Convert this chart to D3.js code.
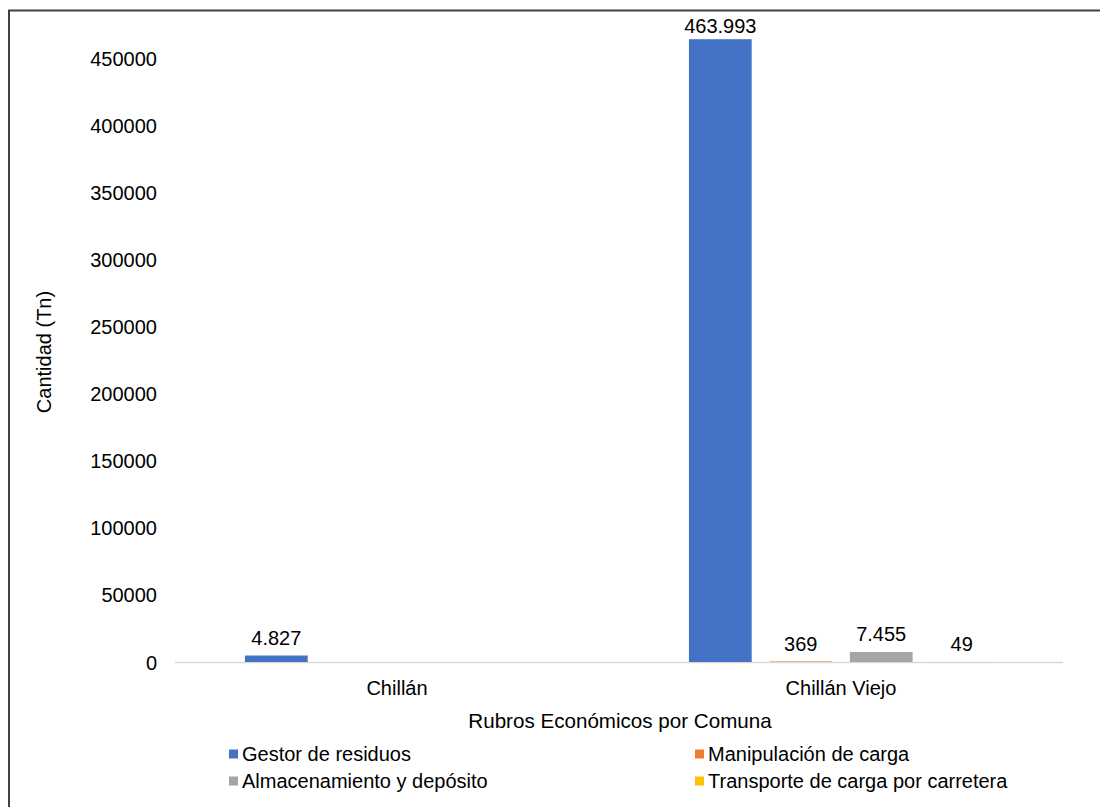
<!DOCTYPE html>
<html><head><meta charset="utf-8">
<script src="https://cdn.jsdelivr.net/npm/d3@7"></script>
<style>
body{margin:0;background:#fff;}
text{font-family:"Liberation Sans",Arial,sans-serif;fill:#000;}
</style></head>
<body><svg id="c" width="1100" height="807"></svg>
<script>
const categories = ["Chillán", "Chillán Viejo"];
const seriesNames = ["Gestor de residuos", "Manipulación de carga", "Almacenamiento y depósito", "Transporte de carga por carretera"];
const seriesColors = ["#4472C4", "#ED7D31", "#A5A5A5", "#FFC000"];
const gestorValues = [4827, 463993];
const manipulacionValues = [null, 369];
const almacenamientoValues = [null, 7455];
const transporteValues = [null, 49];
const yTicks = [0, 50000, 100000, 150000, 200000, 250000, 300000, 350000, 400000, 450000];

const allValues = [gestorValues, manipulacionValues, almacenamientoValues, transporteValues];
const svg = d3.select("#c");
const W = 1100, H = 807;
const FS = 20;
const FF = '"Liberation Sans",Arial,sans-serif';

// frame
svg.append("path").attr("d", `M9,${H} L9,10.5 L${W},10.5`).attr("fill","none").attr("stroke","#404040").attr("stroke-width",2);

const x0 = 175, x1 = 1063, yBase = 662, yTop = 58;
const y = d3.scaleLinear().domain([0, 450000]).range([yBase, yTop]);
const xBand = d3.scaleBand().domain(categories).range([x0, x1]).paddingInner(0.315).paddingOuter(0.1575);
const xSub = d3.scaleBand().domain(d3.range(4)).range([0, xBand.bandwidth()]).paddingInner(0.22).paddingOuter(0);

// y axis labels
const yAxis = d3.axisLeft(y).tickValues(yTicks).tickSize(0).tickPadding(0).tickFormat(d => String(d));
const ya = svg.append("g").attr("transform", `translate(157,0)`).call(yAxis);
ya.select(".domain").remove();
ya.selectAll("text").attr("font-size", FS).attr("font-family", FF).attr("fill","#000").attr("dy","0.35em");

// baseline
svg.append("line").attr("x1", x0).attr("x2", x1).attr("y1", yBase + 0.5).attr("y2", yBase + 0.5).attr("stroke", "#D9D9D9").attr("stroke-width", 1.5);

// bars
const fmt = v => d3.format(",")(v).replace(/,/g, ".");
categories.forEach((cat, ci) => {
  allValues.forEach((vals, si) => {
    const v = vals[ci];
    if (v === null) return;
    const bx = xBand(cat) + xSub(si);
    const bw = xSub.bandwidth();
    svg.append("rect").attr("x", bx).attr("y", y(v)).attr("width", bw).attr("height", yBase - y(v)).attr("fill", seriesColors[si]);
    const ly = Math.max(33, y(v) - 11);
    svg.append("text").attr("x", bx + bw / 2).attr("y", ly).attr("text-anchor", "middle").attr("font-size", FS).text(fmt(v));
  });
});

// x labels
const xAxis = d3.axisBottom(xBand).tickSize(0).tickPadding(0);
const xa = svg.append("g").attr("transform", `translate(0,695)`).call(xAxis);
xa.select(".domain").remove();
xa.selectAll("text").attr("font-size", FS).attr("font-family", FF).attr("fill","#000").attr("y", 0).attr("dy","0");

// axis titles
svg.append("text").attr("x", 620).attr("y", 728).attr("text-anchor", "middle").attr("font-size", 20.6).text("Rubros Económicos por Comuna");
svg.append("text").attr("transform", "translate(51,352) rotate(-90)").attr("text-anchor", "middle").attr("font-size", FS).text("Cantidad (Tn)");

// legend
const legPos = [[229, 754], [695, 754], [229, 781], [695, 781]];
seriesNames.forEach((n, i) => {
  const [lx, ly] = legPos[i];
  svg.append("rect").attr("x", lx).attr("y", ly - 4.5).attr("width", 9).attr("height", 9).attr("fill", seriesColors[i]);
  svg.append("text").attr("x", lx + 13).attr("y", ly).attr("dy", "0.35em").attr("font-size", FS).text(n);
});
</script></body></html>
